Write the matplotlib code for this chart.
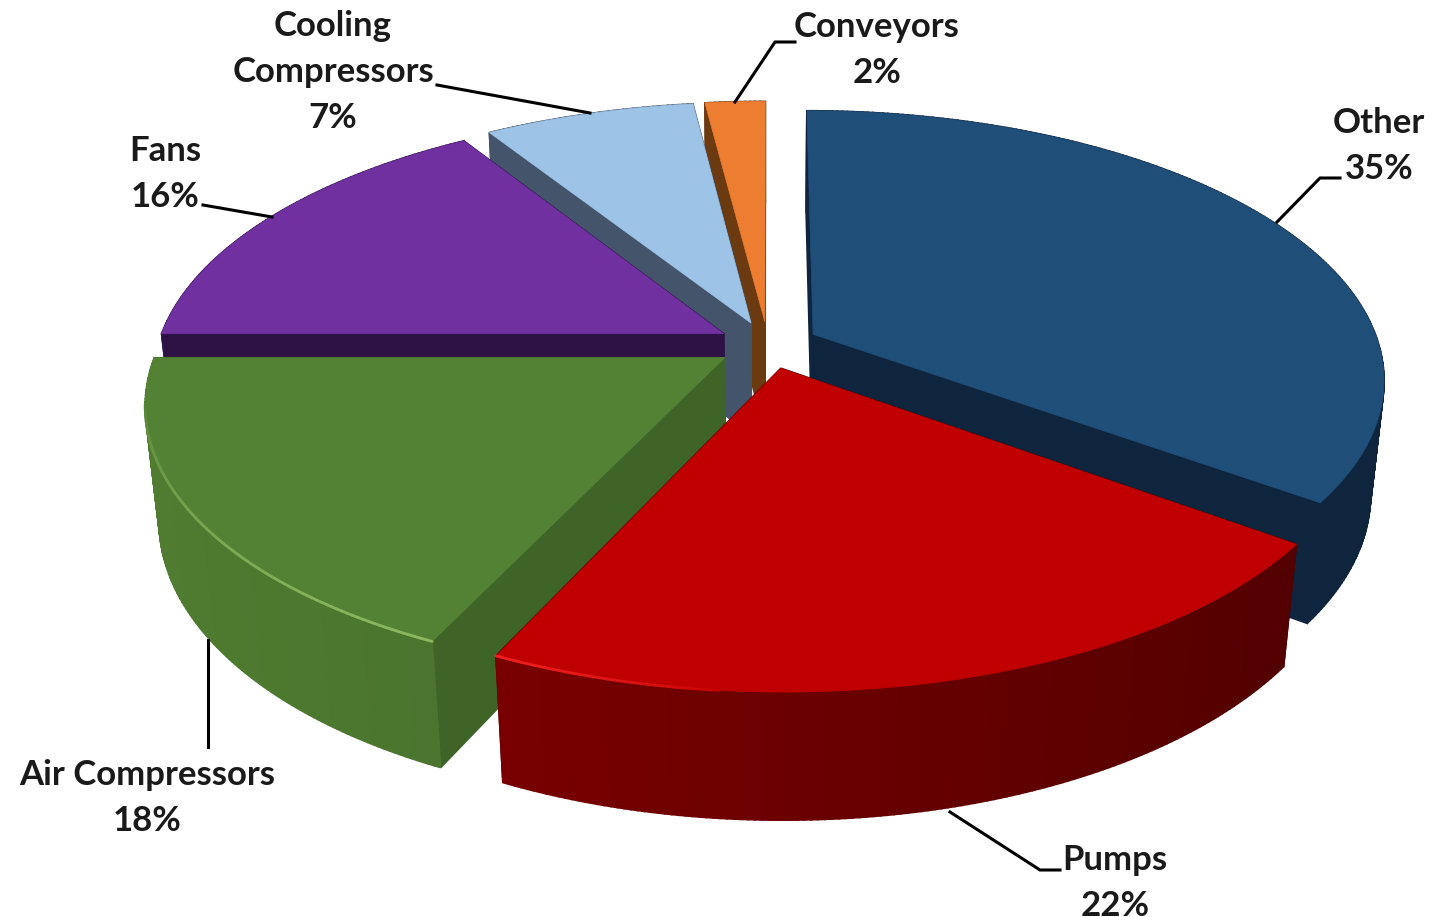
import numpy as np
import matplotlib
matplotlib.use('Agg')
import matplotlib.pyplot as plt
from matplotlib.patches import Polygon
from matplotlib.colors import to_rgb

# motor system energy shares, clockwise from 12 o'clock
names = ['Other', 'Pumps', 'Air Compressors', 'Fans', 'Cooling\nCompressors', 'Conveyors']
shares = [35, 22, 18, 16, 7, 2]

top_colors = ['#1f4e79', '#c00000', '#548235', '#7030a0', '#9dc3e6', '#ed7d31']
face_colors = ['#0f243d', '#4d0000', '#3f6427', '#2e1245', '#44546a', '#6b3a10']
wall_left = ['#0f243d', '#8a0000', '#507d31', '#2e1245', '#44546a', '#6b3a10']
wall_right = ['#0f243d', '#4d0000', '#3d6126', '#2e1245', '#44546a', '#6b3a10']
rim_colors = [None, '#f02020', '#8dba60', None, None, None]
rim_span = [0, 20, 55, 0, 0, 0]  # degrees the bevel runs from the pumps/air corner

# projection of the pie disc
CX, CY = 768.0, 345.0
RX, RY = 566.0, 263.0
PERSP = 0.162
EXPLODE = 0.09
DEPTH = 116.0
DEPTH_PERSP = 0.022


def project(u, v, z=0.0):
    d = 1.0 - PERSP * v + DEPTH_PERSP * z
    return CX + RX * u / d, CY + (RY * v + DEPTH * z) / d


def blend(c1, c2, t):
    a, b = np.array(to_rgb(c1)), np.array(to_rgb(c2))
    return tuple(a + (b - a) * t)


fig = plt.figure(figsize=(14.52, 9.17), dpi=100)
ax = fig.add_axes([0, 0, 1, 1])
ax.set_xlim(0, 1452)
ax.set_ylim(917, 0)
ax.axis('off')

edges = np.cumsum([0] + shares) / sum(shares) * 2 * np.pi
mids = (edges[:-1] + edges[1:]) / 2
corner = edges[2]

# slices further back are painted first
for rank, i in enumerate(np.argsort(-np.cos(mids))):
    a0, a1 = edges[i], edges[i + 1]
    mid = mids[i]
    ou, ov = EXPLODE * np.sin(mid), -EXPLODE * np.cos(mid)
    n = max(8, int(shares[i] * 6))
    aa = np.linspace(a0, a1, n + 1)
    uu, vv = ou + np.sin(aa), ov - np.cos(aa)
    z = 2 + rank

    # side faces, farthest first so nearer ones paint over them
    faces = []
    for j in range(n):
        t = (np.sin((aa[j] + aa[j + 1]) / 2) + 1) / 2
        pts = [project(uu[j], vv[j]), project(uu[j + 1], vv[j + 1]),
               project(uu[j + 1], vv[j + 1], 1), project(uu[j], vv[j], 1)]
        faces.append(((vv[j] + vv[j + 1]) / 2, pts, blend(wall_left[i], wall_right[i], t)))
    for k in (0, -1):
        pts = [project(ou, ov), project(uu[k], vv[k]),
               project(uu[k], vv[k], 1), project(ou, ov, 1)]
        faces.append(((ov + vv[k]) / 2 - 0.3, pts, face_colors[i]))
    faces.sort(key=lambda f: f[0])
    for _, pts, col in faces:
        ax.add_patch(Polygon(pts, closed=True, fc=col, ec=col, lw=1.2, zorder=z))

    # top surface
    rim = [project(a, b) for a, b in zip(uu, vv)]
    ax.add_patch(Polygon([project(ou, ov)] + rim, closed=True, fc=top_colors[i],
                         ec=top_colors[i], lw=0.5, zorder=z))

    # bevel highlight along the top edge, fading away from the corner
    if rim_colors[i]:
        for j in range(n):
            off = np.degrees(abs((aa[j] + aa[j + 1]) / 2 - corner))
            t = max(0.0, 1.0 - off / rim_span[i])
            if t > 0:
                col = blend(top_colors[i], rim_colors[i], t ** 0.6)
                ax.plot([rim[j][0], rim[j + 1][0]], [rim[j][1], rim[j + 1][1]],
                        color=col, lw=2.0, solid_capstyle='round', zorder=z)

# data labels with their leader lines
label_pos = [(1379, 146), (1115, 883), (147, 798), (165, 174), (333, 72), (877, 50)]
leaders = [
    [(1340, 178), (1320, 178), (1277, 222)],
    [(1060, 870), (1040, 870), (950, 812)],
    [(208, 747), (208, 640)],
    [(203, 205), (272, 217)],
    [(437, 85), (590, 113)],
    [(795, 42), (775, 42), (735, 102)],
]

for name, share, (x, y), line in zip(names, shares, label_pos, leaders):
    xs, ys = zip(*line)
    ax.plot(xs, ys, color='black', lw=2.2, solid_joinstyle='miter', zorder=20)
    ax.text(x, y, f'{name}\n{share}%', ha='center', va='center', family='Lato',
            fontweight='bold', fontsize=25, color='#1a1a1a', linespacing=1.55, zorder=21)

fig.savefig('out.png', dpi=100, facecolor='white')
